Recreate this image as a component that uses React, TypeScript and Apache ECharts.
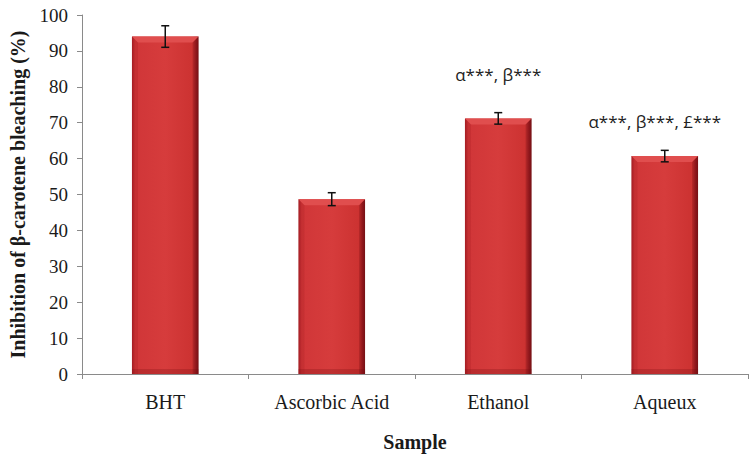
import React, { useEffect, useRef } from "react";
import * as echarts from "echarts";

const categories = ["BHT", "Ascorbic Acid", "Ethanol", "Aqueux"];
const values = [94.0, 48.7, 71.2, 60.7];
const errors = [3.0, 1.8, 1.6, 1.6];
const annotations = ["", "", "α***, β***", "α***, β***, £***"];
const annotationY = [0, 0, 83.3, 70.2];
const annotationDx = [0, 0, 0, -10];

const serif = "'Liberation Serif', 'Times New Roman', serif";

export default function App() {
  const ref = useRef<HTMLDivElement>(null);
  useEffect(() => {
    if (!ref.current) return;
    const chart = echarts.init(ref.current, null, { renderer: "svg" });
    const barData = values.map((v, i) => [i, v]);
    const errData = values.map((v, i) => [i, v, errors[i]]);
    const annData = annotations.map((t, i) => [i, annotationY[i], t]).filter((d) => d[2] !== "");
    chart.setOption({
      animation: false,
      backgroundColor: "#ffffff",
      grid: { left: 77, right: 6, top: 15, bottom: 84, containLabel: false },
      xAxis: {
        type: "category",
        data: categories,
        boundaryGap: true,
        name: "Sample",
        nameLocation: "middle",
        nameGap: 58,
        nameTextStyle: { fontFamily: serif, fontWeight: "bold", fontSize: 20, color: "#1a1a1a" },
        axisLine: { show: true, lineStyle: { color: "#8a8a8a", width: 1 } },
        axisTick: { show: true, length: 5, inside: false, alignWithLabel: false, lineStyle: { color: "#8a8a8a" } },
        axisLabel: { fontFamily: serif, fontSize: 20, color: "#1a1a1a", margin: 18, interval: 0 },
        splitLine: { show: false },
      },
      yAxis: {
        type: "value",
        min: 0,
        max: 100,
        interval: 10,
        name: "Inhibition of β-carotene bleaching (%)",
        nameLocation: "middle",
        nameGap: 54,
        nameTextStyle: { fontFamily: serif, fontWeight: "bold", fontSize: 20, color: "#1a1a1a" },
        axisLine: { show: true, lineStyle: { color: "#8a8a8a", width: 1 } },
        axisTick: { show: true, length: 5, inside: false, lineStyle: { color: "#8a8a8a" } },
        axisLabel: { fontFamily: serif, fontSize: 19, color: "#1a1a1a", margin: 14 },
        splitLine: { show: false },
      },
      series: [
        {
          type: "custom",
          name: "bars",
          data: barData,
          encode: { x: 0, y: 1 },
          renderItem: (params: any, api: any) => {
            const idx = api.value(0);
            const v = api.value(1);
            const top = api.coord([idx, v]);
            const base = api.coord([idx, 0]);
            const bandW = api.size([1, 0])[0];
            const w = bandW * 0.4;
            const x0 = top[0] - w / 2;
            const x1 = top[0] + w / 2;
            const y0 = top[1];
            const yb = base[1];
            const bev = 6;
            return {
              type: "group",
              children: [
                {
                  type: "rect",
                  shape: { x: x0, y: y0, width: w, height: yb - y0 },
                  style: {
                    fill: new echarts.graphic.LinearGradient(0, 0, 1, 0, [
                      { offset: 0, color: "#a81f25" },
                      { offset: 0.05, color: "#d03638" },
                      { offset: 0.5, color: "#d63c3c" },
                      { offset: 0.91, color: "#cc3231" },
                      { offset: 0.96, color: "#9c1b20" },
                      { offset: 1, color: "#7a1216" },
                    ]),
                  },
                },
                {
                  type: "rect",
                  shape: { x: x0, y: yb - 5, width: w, height: 5 },
                  style: { fill: "rgba(120,10,15,0.25)" },
                },
                {
                  type: "polygon",
                  shape: {
                    points: [
                      [x0, y0],
                      [x1, y0],
                      [x1 - bev, y0 + bev],
                      [x0 + bev, y0 + bev],
                    ],
                  },
                  style: { fill: "#e04e4e" },
                },
                {
                  type: "polygon",
                  shape: {
                    points: [
                      [x0, y0],
                      [x0 + bev, y0 + bev],
                      [x0 + bev, yb],
                      [x0, yb],
                    ],
                  },
                  style: { fill: "rgba(150,20,25,0.18)" },
                },
                {
                  type: "polygon",
                  shape: {
                    points: [
                      [x1, y0],
                      [x1 - bev, y0 + bev],
                      [x1 - bev, yb],
                      [x1, yb],
                    ],
                  },
                  style: { fill: "rgba(100,10,15,0.2)" },
                },
              ],
            };
          },
          z: 2,
        },
        {
          type: "custom",
          name: "errors",
          data: errData,
          encode: { x: 0, y: 1 },
          renderItem: (params: any, api: any) => {
            const idx = api.value(0);
            const v = api.value(1);
            const e = api.value(2);
            const hi = api.coord([idx, v + e]);
            const lo = api.coord([idx, v - e]);
            const cap = 4;
            const st = { stroke: "#111111", lineWidth: 1.5 };
            return {
              type: "group",
              children: [
                { type: "line", shape: { x1: hi[0], y1: hi[1], x2: lo[0], y2: lo[1] }, style: st },
                { type: "line", shape: { x1: hi[0] - cap, y1: hi[1], x2: hi[0] + cap, y2: hi[1] }, style: st },
                { type: "line", shape: { x1: lo[0] - cap, y1: lo[1], x2: lo[0] + cap, y2: lo[1] }, style: st },
              ],
            };
          },
          z: 3,
        },
        {
          type: "custom",
          name: "annotations",
          data: annData,
          encode: { x: 0, y: 1 },
          renderItem: (params: any, api: any) => {
            const idx = api.value(0);
            const p = api.coord([idx, api.value(1)]);
            const d = annData[params.dataIndex];
            return {
              type: "text",
              x: p[0] + annotationDx[idx],
              y: p[1],
              style: {
                text: d[2],
                fontFamily: "'Open Sans', 'Noto Sans', sans-serif",
                fontSize: 17,
                fill: "#222222",
                align: "center",
                verticalAlign: "middle",
              },
            };
          },
          z: 4,
        },
      ],
    });
    return () => chart.dispose();
  }, []);
  return <div ref={ref} style={{ width: 754, height: 458, position: "absolute", left: 0, top: 0 }} />;
}
